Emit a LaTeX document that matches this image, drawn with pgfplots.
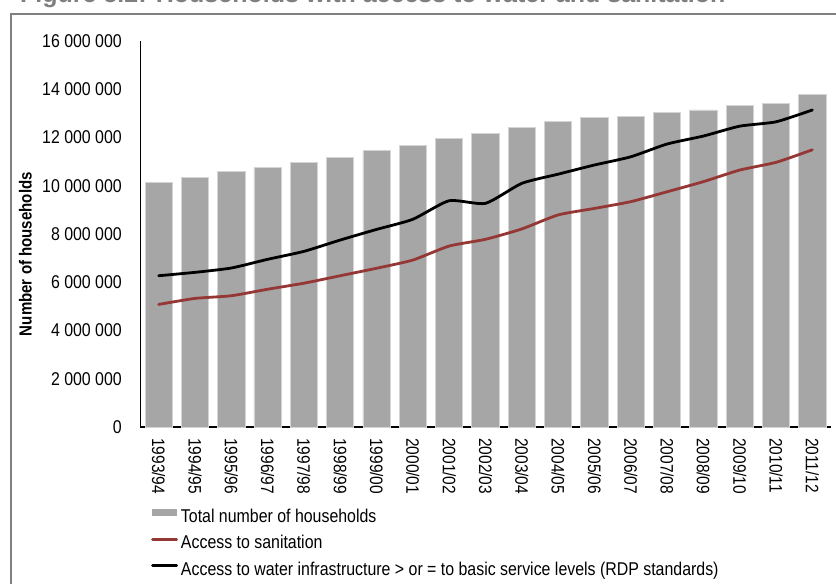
\documentclass[border=0pt]{standalone}
\usepackage{pgfplots}
\pgfplotsset{compat=1.18}
\usepackage{fontspec}
\setmainfont{Liberation Sans}[FakeStretch=0.86]
\newfontfamily\titlefont{Liberation Sans}

\definecolor{barfill}{HTML}{A6A6A6}
\definecolor{baredge}{HTML}{D4D4D4}
\definecolor{sanred}{HTML}{953735}
\definecolor{framegray}{HTML}{808080}
\definecolor{titlegray}{HTML}{7F7F7F}

\begin{document}
\begin{tikzpicture}[x=1pt,y=1pt]
\useasboundingbox (0,0) rectangle (836,584);
% outer frame of the figure
\draw[framegray, line width=1.6pt] (11,-10) -- (11,570) -- (850,570);
% figure caption (runs above the top edge)
\node[anchor=base west, inner sep=0pt, text=titlegray,
      font=\titlefont\bfseries\fontsize{25}{28}\selectfont] at (20,581.5)
      {Figure 5.2: Households with access to water and sanitation};

\begin{axis}[
  at={(140.5pt,157pt)}, anchor=south west,
  scale only axis, width=690pt, height=386pt,
  xmin=-0.5, xmax=18.5, ymin=0, ymax=16000000,
  axis x line=bottom, axis y line=left,
  axis line style={-, black},
  x axis line style={line width=1.4pt},
  y axis line style={line width=0.9pt},
  major tick length=0pt,
  xtick={0,...,18},
  xticklabels={1993/94,1994/95,1995/96,1996/97,1997/98,1998/99,1999/00,2000/01,2001/02,2002/03,2003/04,2004/05,2005/06,2006/07,2007/08,2008/09,2009/10,2010/11,2011/12},
  xticklabel style={rotate=-90, anchor=west, inner sep=0pt,
                    font=\fontsize{18}{20}\selectfont},
  xticklabel shift=11pt,
  ytick={0,2000000,4000000,6000000,8000000,10000000,12000000,14000000,16000000},
  scaled y ticks=false,
  yticklabel style={inner sep=0pt, font=\fontsize{18.5}{20}\selectfont,
                    /pgf/number format/fixed,
                    /pgf/number format/1000 sep={\ },
                    /pgf/number format/assume math mode=true},
  yticklabel shift=18.5pt,
  ylabel={Number of households},
  ylabel style={at={(axis description cs:-0.1667,0.448)}, anchor=center,
                font=\bfseries\fontsize{17.5}{20}\selectfont},
  legend style={at={(axis description cs:0.0152,-0.2117)}, anchor=north west,
                draw=none, fill=none, inner sep=0pt, row sep=9.5pt,
                column sep=3pt,
                nodes={inner sep=0pt, text height=13pt, text depth=4pt},
                font=\fontsize{18.5}{20}\selectfont},
  legend cell align=left,
  clip=false,
]
% total number of households
\addplot[ybar, bar width=27.3pt, fill=barfill, draw=baredge, line width=0.8pt,
  legend image code/.code={\fill[barfill] (0pt,2pt) rectangle (24pt,8.5pt);}]
  coordinates {
  (0,10140000) (1,10360000) (2,10580000) (3,10760000) (4,10980000)
  (5,11190000) (6,11450000) (7,11660000) (8,11950000) (9,12170000)
  (10,12420000) (11,12670000) (12,12820000) (13,12890000) (14,13040000)
  (15,13140000) (16,13320000) (17,13400000) (18,13800000)
};
\addlegendentry{Total number of households}

% households with access to sanitation
\addplot[sanred, line width=2.8pt, line cap=round, line join=round, smooth, tension=0.35,
  legend image code/.code={\draw[sanred, line width=2.8pt] (0pt,5pt) -- (24pt,5pt);}]
  coordinates {
  (0,5080000) (1,5330000) (2,5440000) (3,5710000) (4,5960000)
  (5,6270000) (6,6580000) (7,6920000) (8,7500000) (9,7780000)
  (10,8210000) (11,8790000) (12,9060000) (13,9340000) (14,9750000)
  (15,10170000) (16,10650000) (17,10970000) (18,11490000)
};
\addlegendentry{Access to sanitation}

% households with access to water infrastructure
\addplot[black, line width=2.8pt, line cap=round, line join=round, smooth, tension=0.35,
  legend image code/.code={\draw[black, line width=2.8pt] (0pt,5pt) -- (24pt,5pt);}]
  coordinates {
  (0,6270000) (1,6410000) (2,6590000) (3,6950000) (4,7280000)
  (5,7750000) (6,8190000) (7,8610000) (8,9380000) (9,9270000)
  (10,10100000) (11,10480000) (12,10860000) (13,11200000) (14,11730000)
  (15,12060000) (16,12470000) (17,12650000) (18,13140000)
};
\addlegendentry{Access to water infrastructure > or = to basic service levels (RDP standards)}
\end{axis}
\end{tikzpicture}
\end{document}
